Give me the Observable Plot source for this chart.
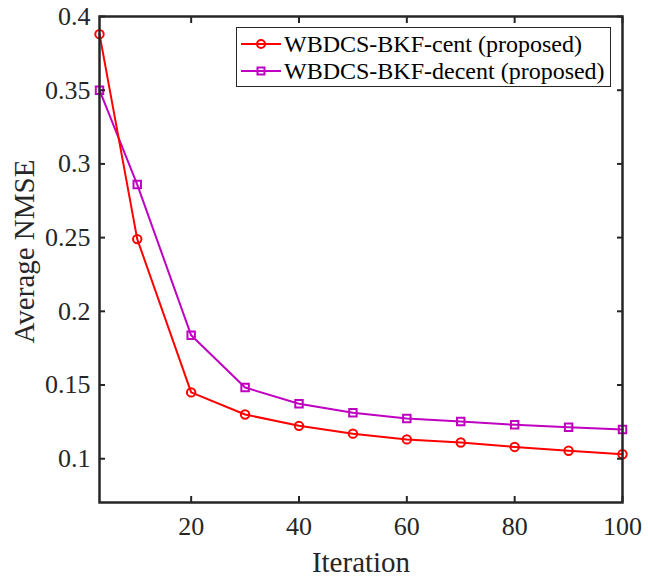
<!DOCTYPE html>
<html>
<head>
<meta charset="utf-8">
<script src="https://cdn.jsdelivr.net/npm/d3@7"></script>
<script src="https://cdn.jsdelivr.net/npm/@observablehq/plot@0.6"></script>
<style>
  html, body { margin: 0; padding: 0; background: #fff; }
  #wrap { position: relative; width: 648px; height: 579px; font-family: "Liberation Serif", "Times New Roman", serif; }
  #legend { position: absolute; left: 236px; top: 27px; width: 375px; height: 60px; border: 1.5px solid #262626; background: #fff; box-sizing: border-box; }
  .row { position: absolute; left: 0; height: 28px; display: flex; align-items: center; font-size: 24px; color: #000; white-space: nowrap; }
  .row svg { margin-left: 4px; margin-right: 3px; }
</style>
</head>
<body>
<div id="wrap"></div>
<script>
const iterations = [3, 10, 20, 30, 40, 50, 60, 70, 80, 90, 100];
const centValues = [0.388, 0.249, 0.145, 0.130, 0.1223, 0.117, 0.1131, 0.111, 0.108, 0.1054, 0.103];
const decentValues = [0.350, 0.286, 0.1837, 0.1483, 0.1373, 0.1312, 0.1273, 0.1253, 0.123, 0.1214, 0.1198];
const seriesNames = ["WBDCS-BKF-cent (proposed)", "WBDCS-BKF-decent (proposed)"];
const xTicks = [20, 40, 60, 80, 100];
const yTicks = [0.1, 0.15, 0.2, 0.25, 0.3, 0.35, 0.4];
const xLabel = ["Iteration"];
const yLabel = ["Average NMSE"];

const red = "#ff0000", mag = "#c000c0", ink = "#262626";
const cent = iterations.map((x, i) => ({x, y: centValues[i]}));
const decent = iterations.map((x, i) => ({x, y: decentValues[i]}));
const fmt = d => String(+d.toFixed(2));

const chart = Plot.plot({
  width: 648,
  height: 579,
  marginLeft: 99,
  marginRight: 26,
  marginTop: 16,
  marginBottom: 77,
  style: {fontFamily: "'Liberation Serif', 'Times New Roman', serif", fontSize: "26px", color: ink, background: "#fff"},
  x: {domain: [3, 100]},
  y: {domain: [0.0703, 0.4]},
  marks: [
    Plot.line(decent, {x: "x", y: "y", stroke: mag, strokeWidth: 2}),
    Plot.line(cent, {x: "x", y: "y", stroke: red, strokeWidth: 2}),
    Plot.dot(decent, {x: "x", y: "y", symbol: "square", r: 4.2, stroke: mag, strokeWidth: 2, fill: "none"}),
    Plot.dot(cent, {x: "x", y: "y", symbol: "circle", r: 4.2, stroke: red, strokeWidth: 2, fill: "none"}),
    Plot.axisX(xTicks, {anchor: "bottom", tickSize: 0, tickPadding: 14, fontSize: 26, label: null, color: ink}),
    Plot.axisY(yTicks, {anchor: "left", tickSize: 0, tickPadding: 9, tickFormat: fmt, fontSize: 26, label: null, color: ink}),
    Plot.axisX(xTicks, {anchor: "bottom", tickSize: -6, strokeWidth: 2, fill: "none", label: null, stroke: ink}),
    Plot.axisX(xTicks, {anchor: "top", tickSize: -6, strokeWidth: 2, fill: "none", label: null, stroke: ink}),
    Plot.axisY(yTicks, {anchor: "left", tickSize: -6, strokeWidth: 2, fill: "none", label: null, stroke: ink}),
    Plot.axisY(yTicks, {anchor: "right", tickSize: -6, strokeWidth: 2, fill: "none", label: null, stroke: ink}),
    Plot.text(xLabel, {text: d => d, frameAnchor: "bottom", textAnchor: "middle", lineAnchor: "bottom", dy: 69, fontSize: 29, fill: ink}),
    Plot.text(yLabel, {text: d => d, frameAnchor: "left", textAnchor: "middle", lineAnchor: "bottom", rotate: -90, dx: -66, dy: -8, fontSize: 29, fill: ink}),
    Plot.frame({stroke: ink, strokeWidth: 2.5})
  ]
});

const wrap = document.getElementById("wrap");
wrap.appendChild(chart);

const legend = document.createElement("div");
legend.id = "legend";
const markers = [
  `<circle cx="20" cy="10" r="4" fill="none" stroke="${red}" stroke-width="2"/>`,
  `<rect x="16.5" y="6.5" width="7" height="7" fill="none" stroke="${mag}" stroke-width="2"/>`
];
const colors = [red, mag];
seriesNames.forEach((name, i) => {
  const row = document.createElement("div");
  row.className = "row";
  row.style.top = (2 + i * 27) + "px";
  row.innerHTML = `<svg width="40" height="20"><line x1="0" y1="10" x2="40" y2="10" stroke="${colors[i]}" stroke-width="2"/>${markers[i]}</svg><span>${name}</span>`;
  legend.appendChild(row);
});
wrap.appendChild(legend);
</script>
</body>
</html>
